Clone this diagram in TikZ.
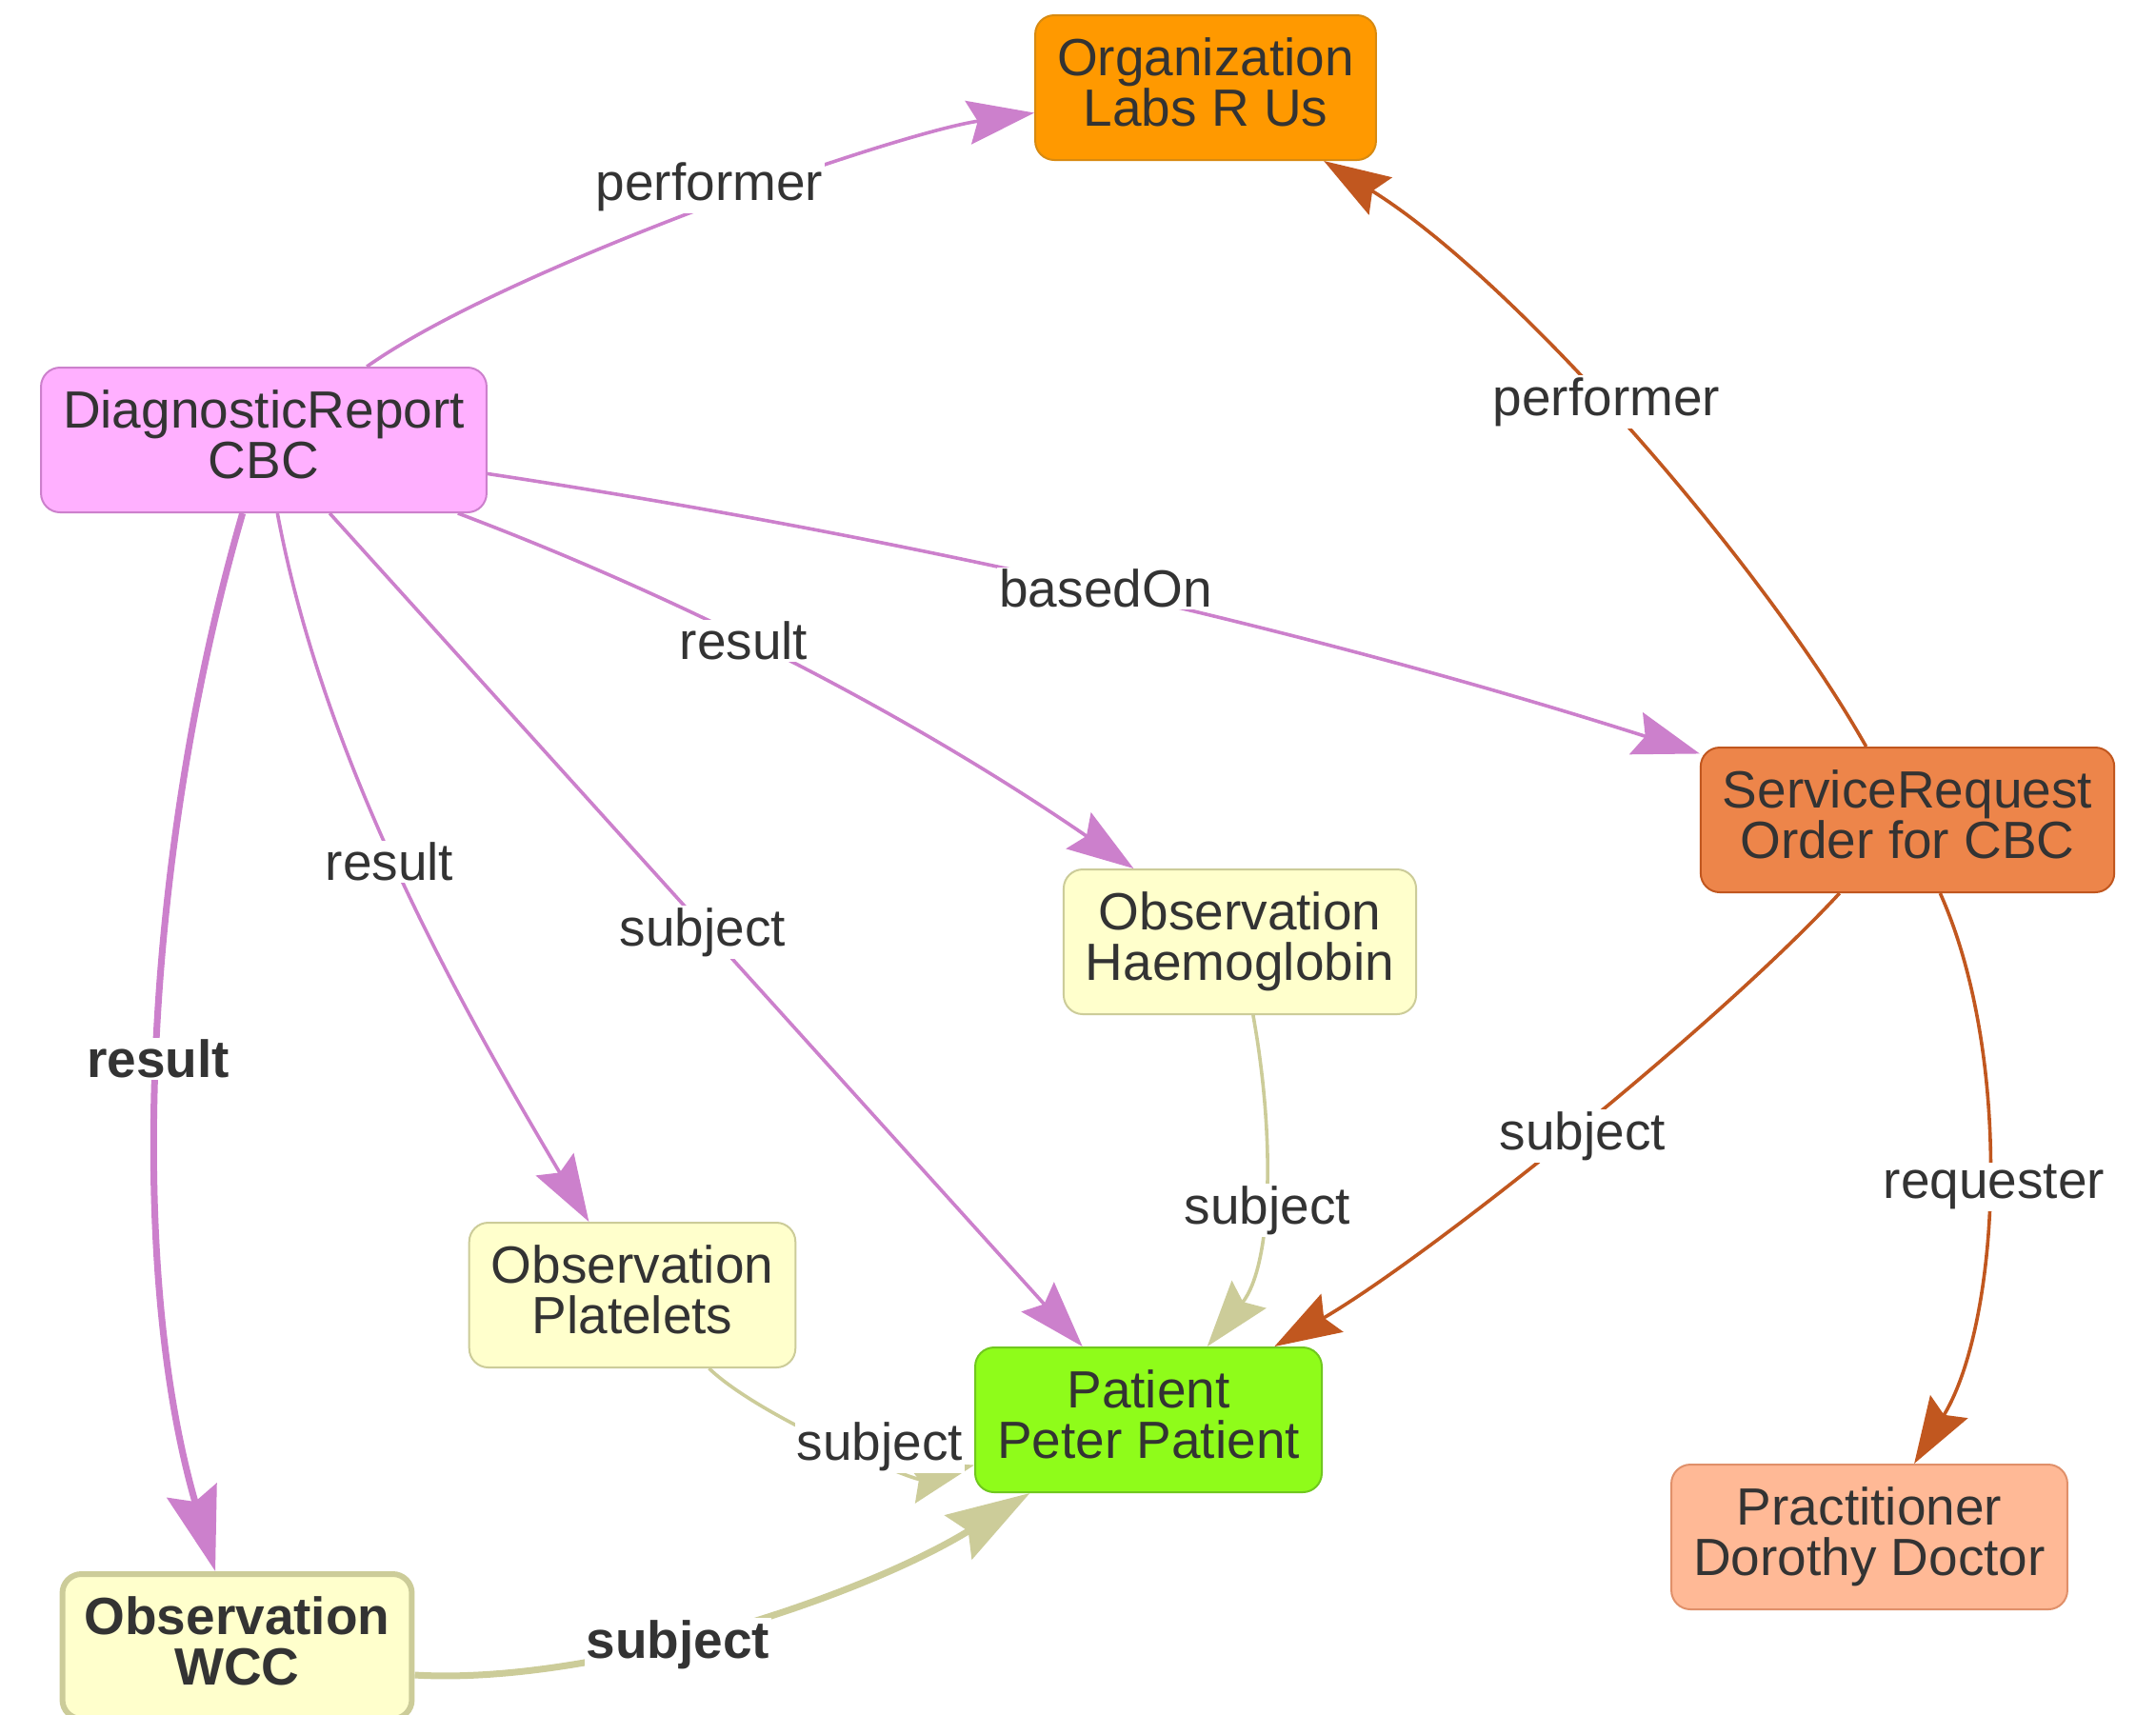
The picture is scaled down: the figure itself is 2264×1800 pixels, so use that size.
\documentclass[tikz,border=0pt]{standalone}
\usepackage{fontspec}
\setmainfont{Liberation Sans}
\usetikzlibrary{arrows.meta}
\definecolor{txt}{HTML}{333333}
\definecolor{pinkE}{HTML}{CC80CC}
\definecolor{pinkF}{HTML}{FFB0FF}
\definecolor{orgF}{HTML}{FF9900}
\definecolor{orgD}{HTML}{D88A10}
\definecolor{srF}{HTML}{ED854A}
\definecolor{srE}{HTML}{C1571F}
\definecolor{prF}{HTML}{FFB996}
\definecolor{prD}{HTML}{E0906A}
\definecolor{patF}{HTML}{8FFC1A}
\definecolor{patD}{HTML}{70C81E}
\definecolor{obsF}{HTML}{FFFFCC}
\definecolor{obsD}{HTML}{CCCC99}
\newcommand{\dn}{\rule[-6pt]{0pt}{6pt}}
\begin{document}
\begin{tikzpicture}[x=0.5pt,y=-0.5pt,
  every node/.style={font=\fontsize{27.5pt}{26.5pt}\selectfont, text=txt},
  box/.style={draw, rounded corners=10pt, line width=1pt, inner xsep=11.5pt, inner ysep=0pt, minimum height=76pt, align=center},
  lbl/.style={inner sep=1pt, fill=white},
  thinedge/.style={line width=1.8pt, -{Stealth[length=35pt,width=23pt,inset=5pt]}},
  thickedge/.style={line width=3.5pt, -{Stealth[length=44pt,width=27pt,inset=6pt]}},
  pinkedge/.style={thinedge, draw=pinkE},
  pinkthick/.style={thickedge, draw=pinkE},
  oredge/.style={thinedge, draw=srE},
  khedge/.style={thinedge, draw=obsD},
  khthick/.style={thickedge, draw=obsD}
]
\useasboundingbox (0,0) rectangle (2264,1800);
\fill[white] (0,0) rectangle (2264,1800);

% nodes
\node[box, fill=orgF, draw=orgD] (org) at (1266,92) {Organization\\Labs R Us\dn};
\node[box, fill=pinkF, draw=pinkE] (dr) at (277,462) {DiagnosticReport\\CBC\dn};
\node[box, fill=srF, draw=srE] (sr) at (2003,861) {ServiceRequest\\Order for CBC\dn};
\node[box, fill=obsF, draw=obsD] (hb) at (1302,989) {Observation\\Haemoglobin\dn};
\node[box, fill=obsF, draw=obsD] (pl) at (664,1360) {Observation\\Platelets\dn};
\node[box, fill=patF, draw=patD] (pat) at (1206,1491) {Patient\\Peter Patient\dn};
\node[box, fill=prF, draw=prD] (pr) at (1963,1614) {Practitioner\\Dorothy Doctor\dn};
\node[box, fill=obsF, draw=obsD, line width=3pt, font=\fontsize{27.5pt}{26.5pt}\selectfont\bfseries] (wcc) at (249,1729) {Observation\\WCC\dn};

% edges
\draw[pinkedge] (dr) .. controls (530,282) and (940,140) .. (org);
\draw[oredge] (sr) .. controls (1850,590) and (1590,293) .. (org);
\draw[pinkedge] (dr) .. controls (952,564) and (1379,662) .. (sr);
\draw[pinkedge] (dr) .. controls (730,633) and (965,757) .. (hb);
\draw[pinkedge] (dr) .. controls (340,800) and (480,1050) .. (pl);
\draw[pinkedge] (dr) -- (pat);
\draw[pinkthick] (dr) .. controls (150,900) and (133,1330) .. (wcc);
\draw[khedge] (hb) .. controls (1340,1200) and (1335,1330) .. (pat);
\draw[khedge] (pl) .. controls (800,1490) and (960,1555) .. (pat);
\draw[khthick] ([yshift=-15pt]wcc.east) .. controls (620,1770) and (900,1680) .. (pat);
\draw[oredge] (sr) .. controls (1800,1080) and (1500,1320) .. (pat);
\draw[oredge] (sr) .. controls (2115,1112) and (2100,1390) .. (pr);

% labels
\node[lbl] (l1) at (745,196) {performer};
\node[lbl] (l2) at (1687,422) {performer};
\node[lbl] (l3) at (1161,618) {basedOn};
\node[lbl] (l4) at (781,673) {result};
\node[lbl] (l5) at (409,905) {result};
\node[lbl] (l6) at (738,979) {subject};
\node[lbl, font=\fontsize{27.5pt}{26.5pt}\selectfont\bfseries] (l7) at (166,1112) {result};
\node[lbl] (l8) at (1331,1271) {subject};
\node[lbl] (l9) at (924,1519) {subject};
\node[lbl, font=\fontsize{27.5pt}{26.5pt}\selectfont\bfseries] (l10) at (712,1727) {subject};
\node[lbl] (l11) at (1662,1193) {subject};
\node[lbl] (l12) at (2094,1246) {requester};
\end{tikzpicture}
\end{document}
